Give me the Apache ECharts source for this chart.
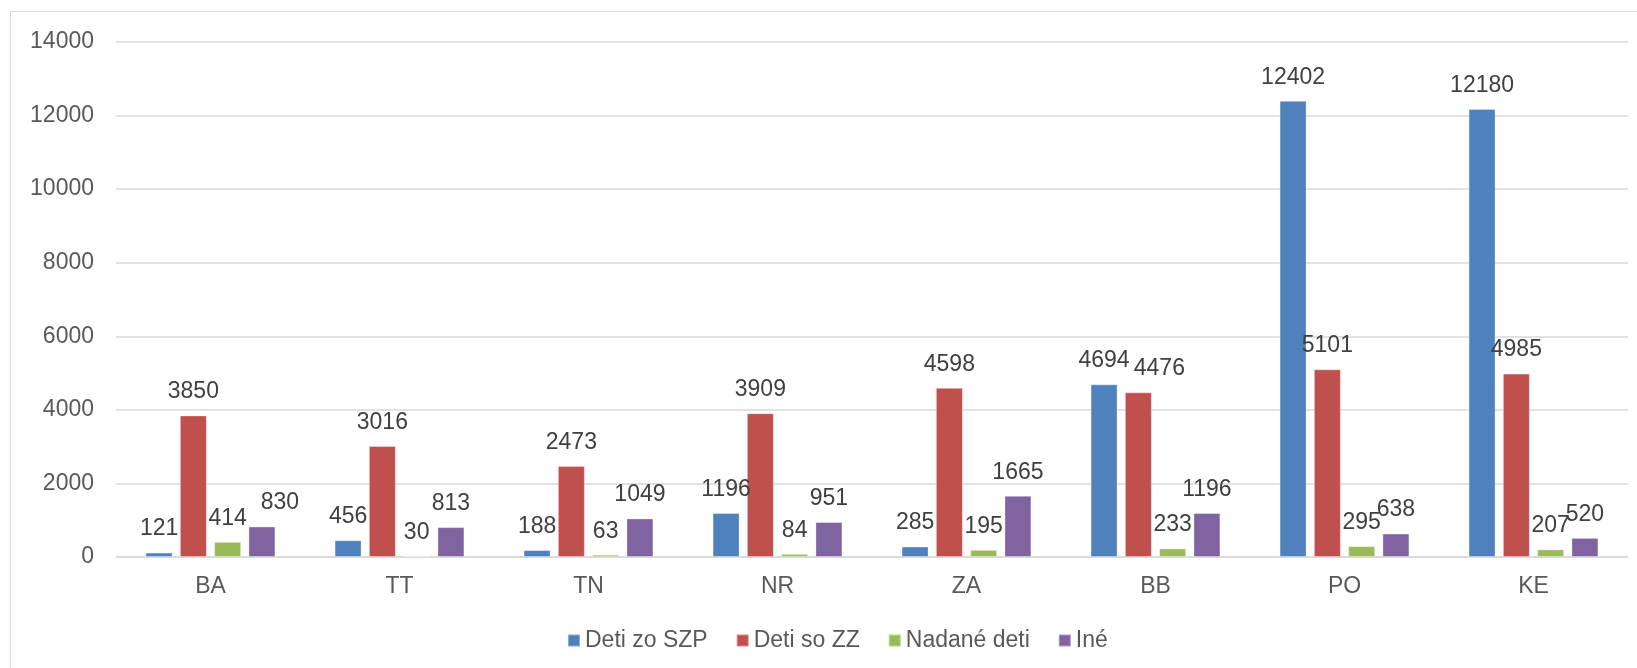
<!DOCTYPE html>
<html>
<head>
<meta charset="utf-8">
<title>Deti podľa krajov</title>
<script src="https://cdn.jsdelivr.net/npm/echarts@6/dist/echarts.min.js"></script>
<style>
  html,body{margin:0;padding:0;background:#fff;}
  #wrap{position:relative;width:1637px;height:668px;overflow:hidden;}
  #frame{position:absolute;left:10px;top:11px;width:1700px;height:700px;border:1.5px solid #d9d9d9;box-sizing:border-box;}
  #chart{position:absolute;left:0;top:0;width:1637px;height:668px;}
</style>
</head>
<body>
<div id="wrap">
  <div id="frame"></div>
  <div id="chart"></div>
</div>
<script>
// === Data ===
const categories = ['BA','TT','TN','NR','ZA','BB','PO','KE'];
const seriesNames = ['Deti zo SZP','Deti so ZZ','Nadané deti','Iné'];
const detiSZP   = [121, 456, 188, 1196, 285, 4694, 12402, 12180];
const detiZZ    = [3850, 3016, 2473, 3909, 4598, 4476, 5101, 4985];
const nadane    = [414, 30, 63, 84, 195, 233, 295, 207];
const ine       = [830, 813, 1049, 951, 1665, 1196, 638, 520];
const yTicks    = { min:0, max:14000, step:2000 };

// === Palette / text ===
const colors = ['#4f81bd','#c0504d','#9bbb59','#8064a2'];
const txt = '#595959', lbl = '#404040', grid = '#d9d9d9';
const font = '"Liberation Sans", Arial, sans-serif';

// labels Excel nudged sideways to avoid overlap (series index -> {cat index: [dx,dy]})
const labelNudge = { 1:{5:[21,0]}, 3:{0:[18,0]} };

function barSeries(name, values, idx){
  return {
    name, type:'bar', barWidth:27, barGap:'27%',
    itemStyle:{ color:colors[idx], borderColor:'rgba(255,255,255,0.35)', borderWidth:1 },
    label:{ show:true, position:'top', distance:12, fontSize:23, fontFamily:font, color:lbl },
    data: values.map((v,i)=>{
      const n = labelNudge[idx] && labelNudge[idx][i];
      return n ? { value:v, label:{ offset:n } } : v;
    })
  };
}

const chart = echarts.init(document.getElementById('chart'));
chart.setOption({
  animation:false,
  grid:{ left:116, right:9, top:42, bottom:111, containLabel:false },
  legend:{
    left:562, top:624, icon:'rect', itemWidth:12, itemHeight:12, itemGap:28,
    textStyle:{ fontSize:23, fontFamily:font, color:txt },
    data:seriesNames
  },
  xAxis:{
    type:'category', data:categories,
    axisLine:{ lineStyle:{ color:grid, width:1.5 } },
    axisTick:{ show:false },
    axisLabel:{ fontSize:23, fontFamily:font, color:txt, margin:18 }
  },
  yAxis:{
    type:'value', min:yTicks.min, max:yTicks.max, interval:yTicks.step,
    axisLine:{ show:false }, axisTick:{ show:false },
    axisLabel:{ fontSize:23, fontFamily:font, color:txt, margin:22, formatter:v=>String(v) },
    splitLine:{ lineStyle:{ color:grid, width:1.5 } }
  },
  series:[
    barSeries(seriesNames[0], detiSZP, 0),
    barSeries(seriesNames[1], detiZZ, 1),
    barSeries(seriesNames[2], nadane, 2),
    barSeries(seriesNames[3], ine, 3)
  ]
});
</script>
</body>
</html>
